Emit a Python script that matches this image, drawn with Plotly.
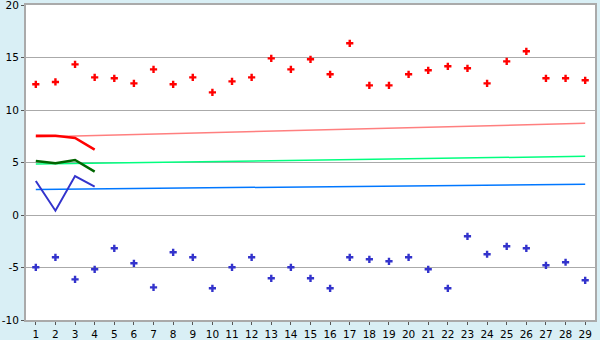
import plotly.graph_objects as go

x_cats = list(range(1, 30))
red_pts = [12.45, 12.67, 14.35, 13.11, 13.02, 12.54, 13.87, 12.45, 13.11, 11.68,
           12.73, 13.11, 14.92, 13.87, 14.83, 13.40, 16.35, 12.35, 12.35, 13.40,
           13.78, 14.16, 13.97, 12.54, 14.63, 15.59, 13.02, 13.02, 12.83]
blue_pts = [-4.98, -4.03, -6.13, -5.17, -3.17, -4.60, -6.89, -3.55, -4.03, -6.98,
            -4.98, -4.03, -6.03, -4.98, -6.03, -6.98, -4.03, -4.22, -4.41, -4.03,
            -5.17, -6.98, -2.03, -3.74, -2.98, -3.17, -4.79, -4.50, -6.22]
short_x = [1, 2, 3, 4]
red_line = [7.55, 7.55, 7.33, 6.22]
green_line = [5.14, 4.92, 5.24, 4.13]
blue_line = [3.24, 0.41, 3.71, 2.70]
trend_x = [1, 29]
pink_trend = [7.43, 8.73]
green_trend = [4.86, 5.59]
blue_trend = [2.44, 2.92]
y_ticks = [-10, -5, 0, 5, 10, 15, 20]
y_tick_labels = ["-10", "-5", "0", "5", "10", "15", "20"]

fig = go.Figure()
fig.add_trace(go.Scatter(x=trend_x, y=pink_trend, mode="lines",
                         line=dict(color="#FF7F7F", width=1.5)))
fig.add_trace(go.Scatter(x=trend_x, y=green_trend, mode="lines",
                         line=dict(color="#00FF7F", width=1.5)))
fig.add_trace(go.Scatter(x=trend_x, y=blue_trend, mode="lines",
                         line=dict(color="#0077FF", width=1.5)))
fig.add_trace(go.Scatter(x=short_x, y=red_line, mode="lines",
                         line=dict(color="#FF0000", width=2.5)))
fig.add_trace(go.Scatter(x=short_x, y=green_line, mode="lines",
                         line=dict(color="#006600", width=2.5)))
fig.add_trace(go.Scatter(x=short_x, y=blue_line, mode="lines",
                         line=dict(color="#3333CC", width=2)))
fig.add_trace(go.Scatter(x=x_cats, y=red_pts, mode="markers",
                         marker=dict(symbol="cross", size=6, color="#FF0000", line=dict(width=0))))
fig.add_trace(go.Scatter(x=x_cats, y=blue_pts, mode="markers",
                         marker=dict(symbol="cross", size=6, color="#3333CC", line=dict(width=0))))

fig.update_layout(
    width=600, height=340,
    margin=dict(l=26, r=5, t=5, b=20, autoexpand=False),
    paper_bgcolor="#D9EFF5",
    plot_bgcolor="#FFFFFF",
    showlegend=False,
    font=dict(family="DejaVu Sans", size=11, color="#000000"),
)
fig.update_xaxes(range=[0.5, 29.5], tickvals=x_cats, ticktext=[str(v) for v in x_cats],
                 showgrid=False, zeroline=False, showline=True, linecolor="#AAAAAA",
                 linewidth=2, mirror=True, ticks="outside", ticklen=3, tickcolor="#555555",
                 tickfont=dict(size=10.5), automargin=False, ticklabeloverflow="allow")
fig.update_yaxes(range=[-10, 20], tickvals=y_ticks, ticktext=y_tick_labels,
                 showgrid=True, gridcolor="#AAAAAA",
                 gridwidth=1, zeroline=False, showline=True, linecolor="#AAAAAA",
                 linewidth=2, mirror=True, ticks="outside", ticklen=3, tickcolor="#555555",
                 tickfont=dict(size=10.5), automargin=False, ticklabeloverflow="allow")
fig.write_html("out.html")
